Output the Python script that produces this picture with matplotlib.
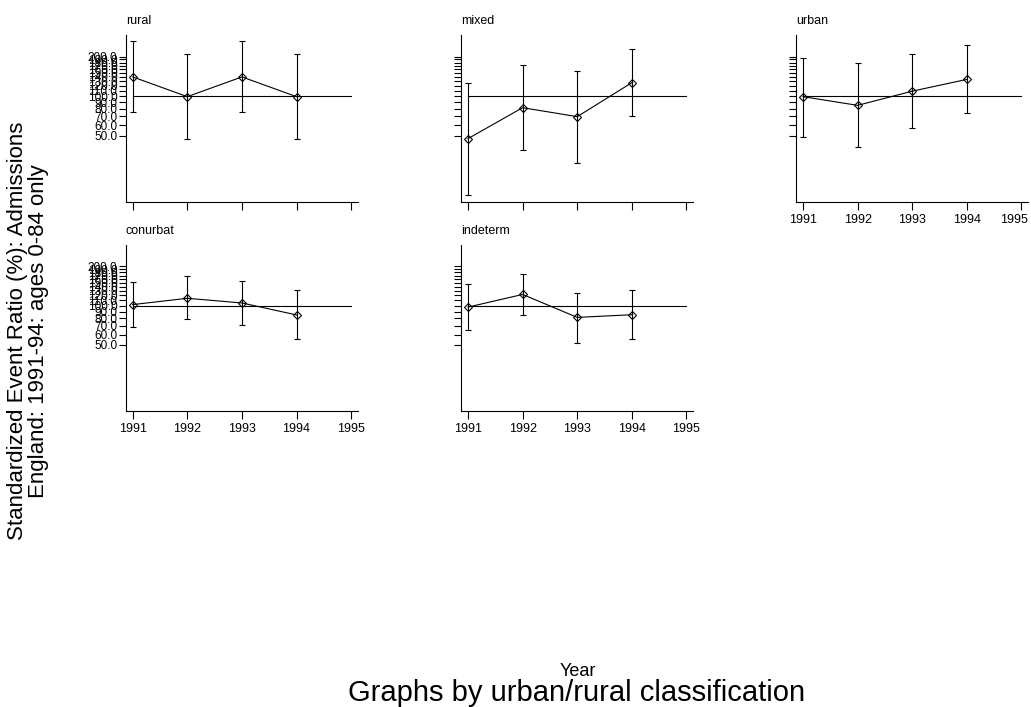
import numpy as np
import matplotlib
matplotlib.use('Agg')
import matplotlib.pyplot as plt
from matplotlib.transforms import ScaledTranslation

plt.rcParams['font.family'] = ['Liberation Sans', 'DejaVu Sans']

# data (SER, lower and upper limits)
years = [1991, 1992, 1993, 1994]
xticks = [1991, 1992, 1993, 1994, 1995]
yticks = [50, 60, 70, 80, 90, 100, 110, 120, 130, 140, 150, 160, 170, 180, 190, 200]

rural = [140, 99, 140, 99]
rural_lo = [75.5, 47.4, 75.5, 47.4]
rural_hi = [262, 210, 262, 210]

mixed = [47.4, 81.6, 69.7, 126.5]
mixed_lo = [17.6, 38.8, 31.1, 70.4]
mixed_hi = [125, 172, 155, 230]

urban = [99, 85, 109, 134]
urban_lo = [49, 40.9, 57, 73.8]
urban_hi = [196, 180, 211, 243]

conurbat = [102, 114, 105, 85]
conurbat_lo = [69, 79.5, 71.5, 55.6]
conurbat_hi = [153, 168, 156, 132]

indeterm = [97.6, 122, 81.4, 85.3]
indeterm_lo = [65.5, 85.3, 51.7, 55.2]
indeterm_hi = [147, 176, 126, 131]

W, H = 1031, 707
fig = plt.figure(figsize=(W / 100, H / 100), dpi=100)
fig.patch.set_facecolor('white')

# panel: name, values, lo, hi, (left px, top px, bottom px), show ylabels, show xlabels
panels = [
    ('rural', rural, rural_lo, rural_hi, (125.7, 35, 202), True, False),
    ('mixed', mixed, mixed_lo, mixed_hi, (461, 35, 202), False, False),
    ('urban', urban, urban_lo, urban_hi, (796, 35, 202), False, True),
    ('conurbat', conurbat, conurbat_lo, conurbat_hi, (125.7, 245, 411), True, True),
    ('indeterm', indeterm, indeterm_lo, indeterm_hi, (461, 245, 411), False, True),
]
pw = 232

for name, val, lo, hi, (l, t, b), showy, showx in panels:
    ax = fig.add_axes([l / W, 1 - b / H, pw / W, (b - t) / H])
    val = np.array(val)
    err = [val - np.array(lo), np.array(hi) - val]
    ax.plot([xticks[0], xticks[-1]], [100, 100], color='black', lw=0.8)
    ax.errorbar(years, val, yerr=err, fmt='none', ecolor='black', elinewidth=0.8,
                capsize=2, capthick=0.8)
    ax.plot(years, val, color='black', lw=0.8, marker='D', ms=4.5,
            mfc='none', mec='black', mew=0.8)
    ax.set_yscale('log')
    ax.set_ylim(15.6, 292)
    ax.set_xlim(1990.872, 1995.12)
    ax.set_yticks(yticks)
    ax.set_yticklabels(['%.1f' % v for v in yticks])
    ax.yaxis.set_minor_locator(matplotlib.ticker.NullLocator())
    ax.set_xticks(xticks)
    ax.set_xticklabels([str(v) for v in xticks])
    for s in ['top', 'right']:
        ax.spines[s].set_visible(False)
    for s in ['left', 'bottom']:
        ax.spines[s].set_linewidth(0.8)
    ax.tick_params(axis='y', direction='out', length=5, width=0.8, pad=1,
                   labelsize=8.5, labelleft=showy)
    ax.tick_params(axis='x', direction='out', length=5.5, width=0.8, pad=3,
                   labelsize=9, labelbottom=showx)
    ax.set_title(name, loc='left', fontsize=9, pad=8)
    if name == 'urban':
        # last label pulled in so it stays inside the picture
        lab = ax.get_xticklabels()[-1]
        lab.set_transform(lab.get_transform() + ScaledTranslation(-0.07, 0, fig.dpi_scale_trans))

fig.text(28 / W, 1 - 331 / H,
         'Standardized Event Ratio (%): Admissions\nEngland: 1991-94: ages 0-84 only',
         rotation=90, ha='center', va='center', fontsize=16, linespacing=0.98,
         multialignment='center')
fig.text(578 / W, 1 - 671.5 / H, 'Year', ha='center', va='center', fontsize=13)
fig.text(577 / W, 1 - 693 / H, 'Graphs by urban/rural classification',
         ha='center', va='center', fontsize=21)

fig.savefig('out.png', dpi=100)
